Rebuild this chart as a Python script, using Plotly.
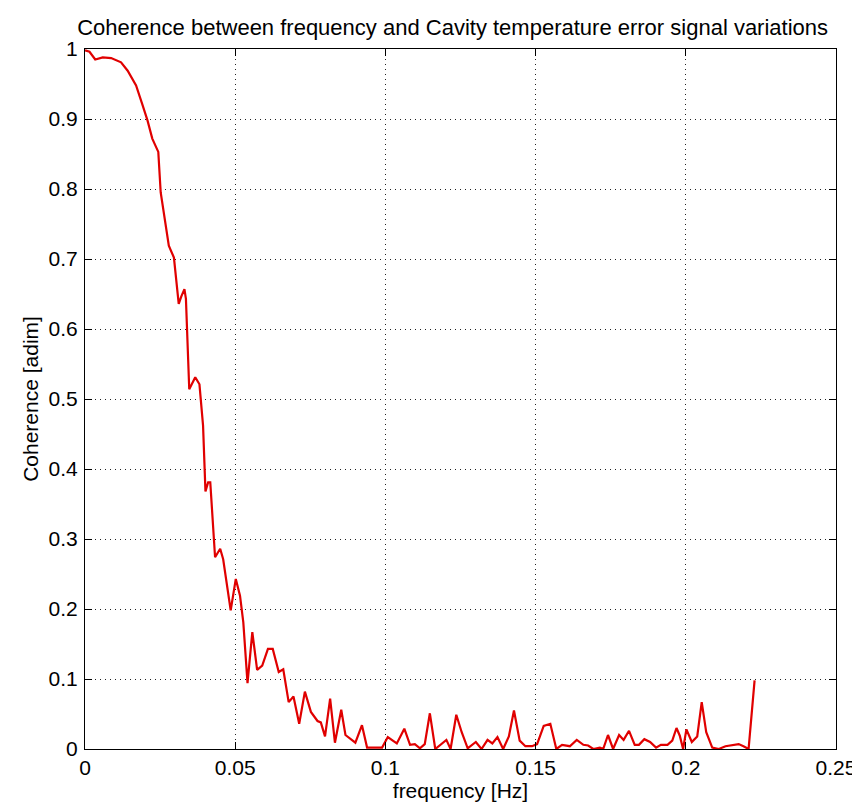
import plotly.graph_objects as go

freq = [0.0, 0.0015, 0.0034, 0.0059, 0.0087, 0.012, 0.0142, 0.017, 0.019, 0.0208, 0.0224, 0.0244,
        0.0252, 0.0265, 0.0279, 0.0296, 0.0312, 0.0321, 0.0331, 0.0336, 0.0347, 0.0367, 0.0381,
        0.0393, 0.0398, 0.0401, 0.0410, 0.0417, 0.0433, 0.0450, 0.0460, 0.0485, 0.0502, 0.0516,
        0.0527, 0.0541, 0.0557, 0.0573, 0.0590, 0.0609, 0.0625, 0.0645, 0.0660, 0.0678, 0.0694,
        0.0713, 0.0732, 0.0752, 0.0774, 0.0785, 0.0799, 0.0816, 0.0832, 0.0853, 0.0867, 0.0900,
        0.0922, 0.0939, 0.0966, 0.0989, 0.1008, 0.1038, 0.1063, 0.1082, 0.1098, 0.1115, 0.1131,
        0.1148, 0.1166, 0.1186, 0.1203, 0.1217, 0.1236, 0.1254, 0.1274, 0.1301, 0.1320, 0.1340,
        0.1356, 0.1373, 0.1392, 0.1411, 0.1428, 0.1447, 0.1466, 0.1488, 0.1505, 0.1527, 0.1549,
        0.1569, 0.1588, 0.1614, 0.1637, 0.1659, 0.1675, 0.1692, 0.1714, 0.1725, 0.1741, 0.1758,
        0.1778, 0.1793, 0.1811, 0.1830, 0.1844, 0.1862, 0.1881, 0.1901, 0.1917, 0.1939, 0.1955,
        0.1969, 0.1980, 0.1991, 0.2002, 0.2020, 0.2038, 0.2053, 0.2068, 0.2088, 0.2110, 0.2132,
        0.2176, 0.2192, 0.2209, 0.2229]
coherence = [0.998, 0.996, 0.985, 0.988, 0.987, 0.981, 0.969, 0.948, 0.922, 0.898, 0.872, 0.853,
             0.795, 0.757, 0.719, 0.702, 0.636, 0.647, 0.657, 0.643, 0.514, 0.531, 0.521,
             0.462, 0.414, 0.368, 0.381, 0.381, 0.274, 0.286, 0.271, 0.198, 0.243, 0.219,
             0.181, 0.094, 0.167, 0.113, 0.119, 0.143, 0.143, 0.110, 0.114, 0.067, 0.075,
             0.036, 0.082, 0.053, 0.040, 0.038, 0.018, 0.072, 0.009, 0.056, 0.020, 0.009,
             0.034, 0.002, 0.002, 0.002, 0.017, 0.008, 0.029, 0.006, 0.007, 0.001, 0.007,
             0.051, 0.000, 0.007, 0.013, 0.000, 0.049, 0.024, 0.001, 0.010, 0.000, 0.013,
             0.008, 0.017, 0.000, 0.018, 0.055, 0.012, 0.004, 0.004, 0.007, 0.033, 0.036,
             0.000, 0.006, 0.004, 0.013, 0.006, 0.005, 0.000, 0.002, 0.000, 0.020, 0.000,
             0.020, 0.013, 0.026, 0.006, 0.006, 0.014, 0.010, 0.002, 0.006, 0.006, 0.012,
             0.030, 0.019, 0.000, 0.028, 0.010, 0.018, 0.067, 0.024, 0.002, 0.000, 0.004,
             0.007, 0.004, 0.000, 0.098]

x_ticks = [0, 0.05, 0.1, 0.15, 0.2, 0.25]
x_tick_labels = ["0", "0.05", "0.1", "0.15", "0.2", "0.25"]
y_ticks = [0, 0.1, 0.2, 0.3, 0.4, 0.5, 0.6, 0.7, 0.8, 0.9, 1]
y_tick_labels = ["0", "0.1", "0.2", "0.3", "0.4", "0.5", "0.6", "0.7", "0.8", "0.9", "1"]

fig = go.Figure()
fig.add_trace(go.Scatter(x=freq, y=coherence, mode="lines",
                         line=dict(color="#e00000", width=2.2), showlegend=False))

font = "Liberation Sans, Arial, sans-serif"
axis_common = dict(showline=True, linecolor="black", linewidth=1, mirror="ticks",
                   ticks="inside", ticklen=7, tickcolor="black",
                   showgrid=True, gridcolor="#222222", griddash="1px,4px", gridwidth=1,
                   zeroline=False, tickfont=dict(family=font, size=21, color="black"))

fig.update_layout(
    width=860, height=805,
    margin=dict(l=77, r=25, t=41, b=64),
    paper_bgcolor="white", plot_bgcolor="white",
    title=dict(text="Coherence between frequency and Cavity temperature error signal variations",
               x=0.517, xanchor="center", y=0.976, yanchor="middle",
               font=dict(family=font, size=22, color="black")),
    xaxis=dict(range=[0, 0.25], tickvals=x_ticks, ticktext=x_tick_labels,
               ticklabelstandoff=0,
               title=dict(text="frequency [Hz]", font=dict(family=font, size=21, color="black"), standoff=4),
               **axis_common),
    yaxis=dict(range=[0, 1], tickvals=y_ticks, ticktext=y_tick_labels,
               ticklabelstandoff=2,
               title=dict(text="Coherence [adim]", font=dict(family=font, size=21, color="black"), standoff=4),
               **axis_common),
)

fig.write_html("out.html")
